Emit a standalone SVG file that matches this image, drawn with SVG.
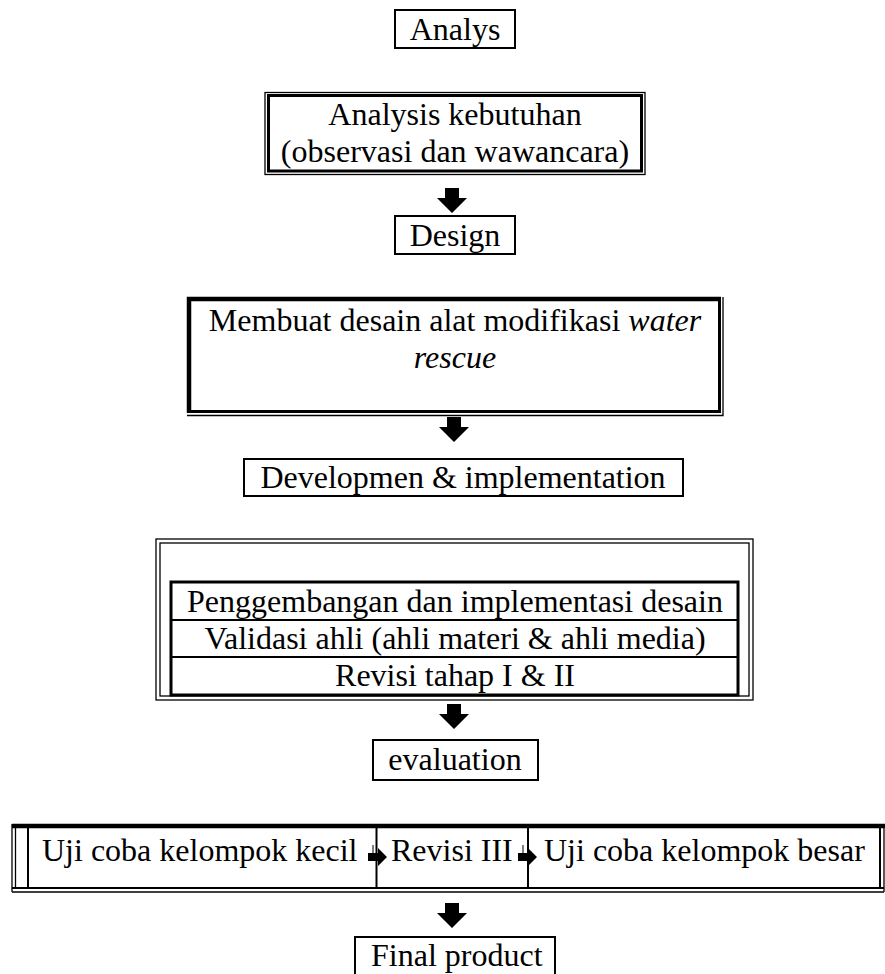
<svg xmlns="http://www.w3.org/2000/svg" width="885" height="974" viewBox="0 0 885 974">
<style>
text{font-family:"Liberation Serif","Times New Roman",serif;font-size:32px;fill:#000}
.c{text-anchor:middle}
.b{fill:none;stroke:#000;stroke-width:2}
.t{fill:none;stroke:#000;stroke-width:1.3}
.k{fill:none;stroke:#000;stroke-width:3}
.K{fill:none;stroke:#000;stroke-width:4.5}
.a{fill:#000}
</style>
<defs>
<path id="down" d="M-7,0 H7 V10 H15 L0,25 L-15,10 H-7 Z"/>
<path id="right" d="M0,5 H10 V0 L19,9 L10,18 V13 H0 Z"/>
</defs>
<rect width="885" height="974" fill="#fff"/>

<g id="analys">
<rect class="b" x="395" y="10" width="120" height="38"/>
<text class="c" x="455" y="40">Analys</text>
</g>

<g id="analysis-kebutuhan">
<rect class="t" x="265" y="92.5" width="380" height="82"/>
<rect class="k" x="268.5" y="95.5" width="373" height="75.5"/>
<text class="c" x="455" y="125">Analysis kebutuhan</text>
<text class="c" x="455" y="162">(observasi dan wawancara)</text>
</g>

<g id="design">
<rect class="b" x="395" y="216" width="120" height="38"/>
<text class="c" x="455" y="246">Design</text>
</g>

<g id="membuat-desain">
<path class="K" d="M189,413 V299 H721"/>
<path class="k" d="M189,411.5 H719.5 V299"/>
<path class="t" d="M187,415.5 H723 V297"/>
<text class="c" x="455" y="331">Membuat desain alat modifikasi <tspan font-style="italic">water</tspan></text>
<text class="c" x="455" y="368" font-style="italic">rescue</text>
</g>

<g id="developmen">
<rect class="b" x="244" y="459" width="439" height="37"/>
<text class="c" x="463" y="488">Developmen &amp; implementation</text>
</g>

<g id="development-steps">
<rect class="t" x="156" y="539" width="597" height="161"/>
<rect class="t" x="160" y="543" width="589" height="153"/>
<rect class="k" x="171" y="582" width="567" height="113"/>
<line class="b" x1="171" y1="620" x2="738" y2="620"/>
<line class="b" x1="171" y1="657" x2="738" y2="657"/>
<text class="c" x="455" y="612">Penggembangan dan implementasi desain</text>
<text class="c" x="455" y="649">Validasi ahli (ahli materi &amp; ahli media)</text>
<text class="c" x="455" y="686">Revisi tahap I &amp; II</text>
</g>

<g id="evaluation">
<rect class="b" x="373" y="740" width="165" height="40"/>
<text class="c" x="455" y="770">evaluation</text>
</g>

<g id="trial-row">
<line class="K" x1="12" y1="826" x2="885" y2="826"/>
<line class="t" x1="12" y1="824" x2="12" y2="892"/>
<line class="t" x1="15.5" y1="824" x2="15.5" y2="888"/>
<line class="b" x1="28" y1="826" x2="28" y2="888"/>
<line class="b" x1="376.5" y1="826" x2="376.5" y2="888"/>
<line class="b" x1="528" y1="826" x2="528" y2="888"/>
<line class="b" x1="880" y1="826" x2="880" y2="888"/>
<line class="t" x1="884" y1="826" x2="884" y2="892"/>
<line class="b" x1="12" y1="888" x2="884" y2="888"/>
<line class="t" x1="12" y1="892" x2="884" y2="892"/>
<text x="42" y="861">Uji coba kelompok kecil</text>
<text x="391" y="861">Revisi III</text>
<text x="544" y="861">Uji coba kelompok besar</text>
</g>

<g id="final-product">
<rect class="b" x="355" y="937" width="200" height="38"/>
<text x="371" y="966">Final product</text>
</g>

<g id="connectors">
<use href="#down" x="452" y="188" class="a"/>
<use href="#down" x="454" y="417" class="a"/>
<use href="#down" x="454" y="704" class="a"/>
<use href="#down" x="452" y="903" class="a"/>
<line x1="373" y1="845" x2="373" y2="853" stroke="#000" stroke-width="1"/>
<use href="#right" x="368" y="848" class="a"/>
<line x1="523" y1="845" x2="523" y2="853" stroke="#000" stroke-width="1"/>
<use href="#right" x="518" y="848" class="a"/>
</g>
</svg>
